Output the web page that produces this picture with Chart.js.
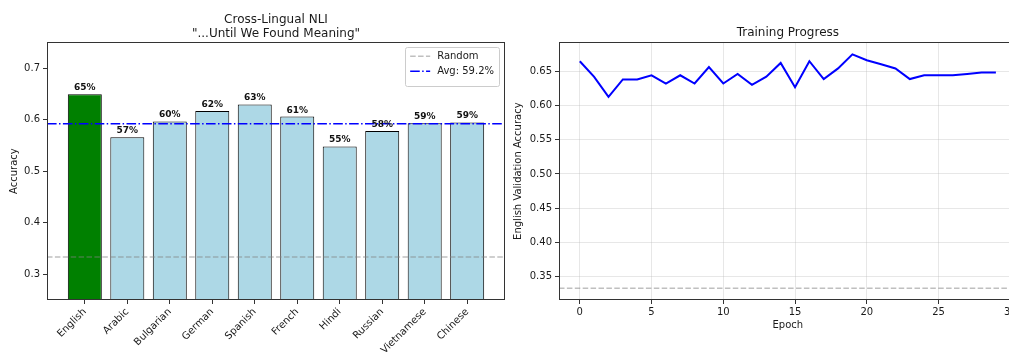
<!DOCTYPE html>
<html>
<head>
<meta charset="utf-8">
<script src="https://cdn.jsdelivr.net/npm/chart.js@4.4.1/dist/chart.umd.min.js"></script>
<style>
  html, body { margin: 0; padding: 0; background: #fff; overflow: hidden; }
  body { width: 1009px; height: 352px; position: relative; }
  .panel { position: absolute; top: 0; height: 352px; }
  #left { left: 0; width: 510px; }
  #right { left: 510px; width: 510px; }
</style>
</head>
<body>
<div class="panel" id="left"><canvas id="nli"></canvas></div>
<div class="panel" id="right"><canvas id="training"></canvas></div>
<script>
// cross-lingual accuracy per language (English is the training language)
const languages = ['English', 'Arabic', 'Bulgarian', 'German', 'Spanish', 'French', 'Hindi', 'Russian', 'Vietnamese', 'Chinese'];
const accuracy = [0.649, 0.566, 0.5965, 0.6165, 0.6295, 0.606, 0.548, 0.578, 0.593, 0.5945];
const accTicks = [0.3, 0.4, 0.5, 0.6, 0.7];
const randomBaseline = 1 / 3;

// English validation accuracy per epoch
const epochs = [0, 1, 2, 3, 4, 5, 6, 7, 8, 9, 10, 11, 12, 13, 14, 15, 16, 17, 18, 19, 20, 21, 22, 23, 24, 25, 26, 27, 28, 29];
const valAccuracy = [0.6645, 0.6417, 0.6125, 0.638, 0.638, 0.644, 0.632, 0.644, 0.632, 0.656,
                     0.632, 0.646, 0.630, 0.642, 0.662, 0.6265, 0.6645, 0.6385, 0.654, 0.6745,
                     0.666, 0.660, 0.654, 0.6385, 0.644, 0.644, 0.644, 0.646, 0.648, 0.648];
const epochTicks = [0, 5, 10, 15, 20, 25, 30];
const valTicks = [0.35, 0.40, 0.45, 0.50, 0.55, 0.60, 0.65];

const avgOthers = accuracy.slice(1).reduce((a, b) => a + b, 0) / (accuracy.length - 1);

Chart.defaults.font.family = "'DejaVu Sans', sans-serif";
Chart.defaults.font.size = 10;
Chart.defaults.color = '#1a1a1a';
Chart.defaults.animation = false;

const spine = '#333';
const refGray = 'rgba(128,128,128,0.5)';

// box around the plot area, like matplotlib spines
const framePlugin = {
  id: 'frame',
  afterDraw(chart) {
    const { ctx, chartArea: a } = chart;
    ctx.save();
    ctx.strokeStyle = spine;
    ctx.lineWidth = 1;
    ctx.strokeRect(Math.round(a.left) + 0.5, Math.round(a.top) + 0.5,
                   Math.round(a.right - a.left) - 1, Math.round(a.bottom - a.top) - 1);
    ctx.restore();
  }
};

// percentage labels on top of the bars
const barLabels = {
  id: 'barLabels',
  afterDatasetsDraw(chart) {
    const meta = chart.getDatasetMeta(0);
    const ctx = chart.ctx;
    ctx.save();
    ctx.font = "bold 9px 'DejaVu Sans'";
    ctx.fillStyle = '#111';
    ctx.textAlign = 'center';
    ctx.textBaseline = 'alphabetic';
    meta.data.forEach((bar, i) => {
      ctx.fillText(Math.round(accuracy[i] * 100) + '%', bar.x, bar.y - 4);
    });
    ctx.restore();
  }
};

// framed legend in the upper right corner of the plot
const boxLegend = {
  id: 'boxLegend',
  afterDraw(chart) {
    const { ctx, chartArea: a } = chart;
    const items = chart.data.datasets.filter(d => d.type === 'line');
    ctx.save();
    ctx.font = "10px 'DejaVu Sans'";
    const textW = Math.max(...items.map(d => ctx.measureText(d.label).width));
    const w = 5 + 20 + 7 + textW + 5;
    const h = 6 + items.length * 15 + 3;
    const x = a.right - 6 - w;
    const y = a.top + 5;
    ctx.fillStyle = 'rgba(255,255,255,0.8)';
    ctx.strokeStyle = '#ccc';
    ctx.lineWidth = 1;
    ctx.beginPath();
    ctx.roundRect(Math.round(x) + 0.5, Math.round(y) + 0.5, Math.round(w), Math.round(h), 2);
    ctx.fill();
    ctx.stroke();
    items.forEach((d, i) => {
      const cy = y + 9 + i * 15;
      ctx.strokeStyle = d.borderColor;
      ctx.lineWidth = d.borderWidth;
      ctx.setLineDash(d.borderDash);
      ctx.beginPath();
      ctx.moveTo(x + 5, cy);
      ctx.lineTo(x + 25, cy);
      ctx.stroke();
      ctx.setLineDash([]);
      ctx.fillStyle = '#1a1a1a';
      ctx.textBaseline = 'middle';
      ctx.fillText(d.label, x + 32, cy);
    });
    ctx.restore();
  }
};

const barXMin = -0.89, barXMax = 9.89;

new Chart(document.getElementById('nli'), {
  type: 'bar',
  plugins: [framePlugin, barLabels, boxLegend],
  data: {
    datasets: [
      {
        type: 'bar',
        order: 2,
        data: accuracy.map((v, i) => ({ x: i, y: v })),
        backgroundColor: accuracy.map((v, i) => i === 0 ? '#008000' : '#add8e6'),
        borderColor: '#000',
        borderWidth: 1,
        borderSkipped: false,
        barPercentage: 0.8,
        categoryPercentage: 1
      },
      {
        type: 'line',
        order: 1,
        label: 'Random',
        data: [{ x: barXMin, y: randomBaseline }, { x: barXMax, y: randomBaseline }],
        borderColor: refGray,
        borderWidth: 1.5,
        borderDash: [5.5, 2.4],
        pointRadius: 0
      },
      {
        type: 'line',
        order: 0,
        label: `Avg: ${(avgOthers * 100).toFixed(1)}%`,
        data: [{ x: barXMin, y: avgOthers }, { x: barXMax, y: avgOthers }],
        borderColor: '#0000ff',
        borderWidth: 1.5,
        borderDash: [9.6, 2.4, 1.5, 2.4],
        pointRadius: 0
      }
    ]
  },
  options: {
    responsive: true,
    maintainAspectRatio: false,
    layout: { padding: { left: 0, right: 5, top: 0, bottom: 0 } },
    plugins: {
      legend: { display: false },
      tooltip: { enabled: false },
      title: {
        display: true,
        fullSize: false,
        text: ['Cross-Lingual NLI', '"...Until We Found Meaning"'],
        font: { size: 12, weight: 'normal' },
        color: '#1a1a1a',
        padding: { top: 12.6, bottom: 0.9 }
      }
    },
    scales: {
      x: {
        type: 'linear',
        min: barXMin,
        max: barXMax,
        offset: false,
        afterFit(s) { s.height = 52; },
        afterBuildTicks(s) { s.ticks = languages.map((_, i) => ({ value: i })); },
        ticks: {
          autoSkip: false,
          minRotation: 45,
          maxRotation: 45,
          padding: 2,
          callback: v => languages[v]
        },
        grid: { offset: false, drawOnChartArea: false, drawTicks: true, tickLength: 4, tickColor: spine },
        border: { display: false }
      },
      y: {
        min: 0.25,
        max: 0.75,
        afterFit(s) { s.width = 47; },
        afterBuildTicks(s) { s.ticks = accTicks.map(v => ({ value: v })); },
        ticks: { padding: 3, callback: v => v.toFixed(1) },
        grid: { drawOnChartArea: false, drawTicks: true, tickLength: 4, tickColor: spine },
        border: { display: false },
        title: { display: true, text: 'Accuracy', padding: { top: 8, bottom: 0 } }
      }
    }
  }
});

new Chart(document.getElementById('training'), {
  type: 'line',
  plugins: [framePlugin],
  data: {
    datasets: [
      {
        data: epochs.map((e, i) => ({ x: e, y: valAccuracy[i] })),
        borderColor: '#0000ff',
        borderWidth: 2,
        pointRadius: 0,
        tension: 0
      },
      {
        data: [{ x: -1.45, y: randomBaseline }, { x: 30.45, y: randomBaseline }],
        borderColor: refGray,
        borderWidth: 1.5,
        borderDash: [5.5, 2.4],
        pointRadius: 0
      }
    ]
  },
  options: {
    responsive: true,
    maintainAspectRatio: false,
    layout: { padding: { left: 0, right: 3.3, top: 0, bottom: 0 } },
    plugins: {
      legend: { display: false },
      tooltip: { enabled: false },
      title: {
        display: true,
        fullSize: false,
        text: 'Training Progress',
        font: { size: 12, weight: 'normal' },
        color: '#1a1a1a',
        padding: { top: 26, bottom: 1.9 }
      }
    },
    scales: {
      x: {
        type: 'linear',
        min: -1.45,
        max: 30.45,
        afterFit(s) { s.height = 52; },
        afterBuildTicks(s) { s.ticks = epochTicks.map(v => ({ value: v })); },
        ticks: { padding: 2, maxRotation: 0, callback: v => String(v) },
        grid: { color: 'rgba(176,176,176,0.3)', lineWidth: 1, drawTicks: true, tickLength: 4, tickColor: spine },
        border: { display: false },
        title: { display: true, text: 'Epoch', padding: { top: 0, bottom: 20.3 } }
      },
      y: {
        min: 0.3162,
        max: 0.6921,
        afterFit(s) { s.width = 49; },
        afterBuildTicks(s) { s.ticks = valTicks.map(v => ({ value: v })); },
        ticks: { padding: 3, callback: v => v.toFixed(2) },
        grid: { color: 'rgba(176,176,176,0.3)', lineWidth: 1, drawTicks: true, tickLength: 4, tickColor: spine },
        border: { display: false },
        title: { display: true, text: 'English Validation Accuracy', padding: { top: 2.3, bottom: 0 } }
      }
    }
  }
});
</script>
</body>
</html>
